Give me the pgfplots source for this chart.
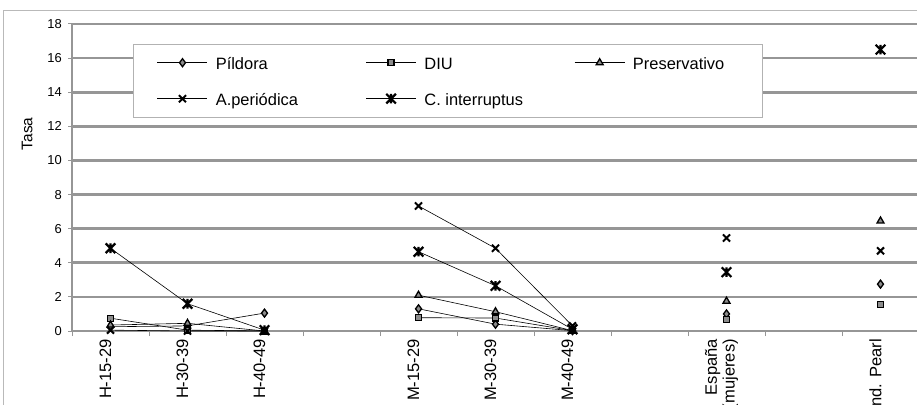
\documentclass[border=0pt]{standalone}
\usepackage{fontspec}
\setmainfont{Liberation Sans}
\usepackage{pgfplots}
\pgfplotsset{compat=1.18}
\usepackage{pgfplotstable}
\definecolor{gridc}{RGB}{150,150,150}
\definecolor{markf}{RGB}{140,140,140}
\pgfdeclareplotmark{xstar}{%
  \pgfpathmoveto{\pgfqpoint{-\pgfplotmarksize}{-\pgfplotmarksize}}%
  \pgfpathlineto{\pgfqpoint{\pgfplotmarksize}{\pgfplotmarksize}}%
  \pgfpathmoveto{\pgfqpoint{-\pgfplotmarksize}{\pgfplotmarksize}}%
  \pgfpathlineto{\pgfqpoint{\pgfplotmarksize}{-\pgfplotmarksize}}%
  \pgfpathmoveto{\pgfqpoint{0pt}{-\pgfplotmarksize}}%
  \pgfpathlineto{\pgfqpoint{0pt}{\pgfplotmarksize}}%
  \pgfusepathqstroke}

\pgfplotstableread{
x Pil DIU Pre Aper Cint
0 0.25 0.75 0.35 0.05 4.85
1 0.30 0.05 0.45 0.00 1.60
2 1.05 0.00 0.00 0.00 0.05
3 nan nan nan nan nan
4 1.30 0.78 2.10 7.33 4.65
5 0.40 0.76 1.13 4.85 2.65
6 0.02 0.02 0.02 0.30 0.10
7 nan nan nan nan nan
8 1.00 0.68 1.75 5.45 3.45
9 nan nan nan nan nan
10 2.75 1.55 6.45 4.70 16.50
}\datatab

\begin{document}
\begin{tikzpicture}
\draw[gray!55, line width=0.8bp] (-69bp,-100bp) -- (-69bp,321bp) -- (900bp,321bp);
\begin{axis}[
  at={(0,0)}, anchor=south west,
  scale only axis, width=847bp, height=307bp,
  xmin=-0.5, xmax=10.5, ymin=0, ymax=18,
  clip=false,
  unbounded coords=jump,
  axis x line=bottom, axis y line=left,
  axis line style={-, draw=gridc, line width=2.6bp},
  ymajorgrids, grid style={draw=gridc, line width=2.6bp},
  ytick={0,2,...,18},
  xtick={0,...,10},
  xticklabels={H-15-29,H-30-39,H-40-49,,M-15-29,M-30-39,M-40-49,,{España\\(mujeres)},,Ind. Pearl},
  minor xtick={-0.5,0.5,...,10.5},
  tick align=outside,
  major tick length=4bp, minor tick length=5bp,
  tick style={draw=gridc, line width=1bp},
  major x tick style={draw=none},
  /pgf/number format/assume math mode=true,
  yticklabel style={font=\fontsize{13}{15}\selectfont, inner sep=0pt, xshift=-6bp},
  xticklabel style={rotate=90, anchor=east, align=right, font=\fontsize{16.6}{18}\selectfont, inner sep=0pt, yshift=5bp, xshift=-4bp},
  legend columns=3,
  legend image code/.code={\draw[mark repeat=2,mark phase=2,#1] plot coordinates {(0bp,0bp) (25bp,0bp) (50bp,0bp)};},
  legend style={at={(axis description cs:0.0720,0.9349)}, anchor=north west,
    draw=gray!60, fill=white, inner xsep=24bp, inner ysep=8bp,
    column sep=8bp, row sep=15bp,
    font=\fontsize{16.5}{19}\selectfont,
    nodes={inner xsep=0pt, inner ysep=0pt, text height=17bp, text depth=4bp},
    /tikz/every even column/.append style={column sep=10bp}},
  legend cell align=left,
]
\addplot[black, line width=0.6bp, mark=diamond*, mark size=4bp, mark options={solid, fill=markf, draw=black, line width=1.3bp}] table[x=x,y=Pil]{\datatab};
\addlegendentry{\makebox[140bp][l]{Píldora}}
\addplot[black, line width=0.6bp, mark=square*, mark size=3bp, mark options={solid, fill=markf, draw=black, line width=1.3bp}] table[x=x,y=DIU]{\datatab};
\addlegendentry{\makebox[140bp][l]{DIU}}
\addplot[black, line width=0.6bp, mark=triangle*, mark size=4bp, mark options={solid, fill=markf, draw=black, line width=1.3bp}] table[x=x,y=Pre]{\datatab};
\addlegendentry{\makebox[105bp][l]{Preservativo}}
\addplot[black, line width=0.6bp, mark=x, mark size=5bp, mark options={solid, draw=black, line width=2bp}] table[x=x,y=Aper]{\datatab};
\addlegendentry{\makebox[140bp][l]{A.periódica}}
\addplot[black, line width=0.6bp, mark=xstar, mark size=4.8bp, mark options={solid, draw=black, line width=2.2bp}] table[x=x,y=Cint]{\datatab};
\addlegendentry{\makebox[140bp][l]{C. interruptus}}
\node[rotate=90, anchor=center, inner sep=0pt, font=\fontsize{15.5}{18}\selectfont] at (axis description cs:-0.0531,0.642) {Tasa};
\end{axis}
\pgfresetboundingbox
\useasboundingbox (-72bp,-74bp) rectangle (845bp,331bp);
\end{tikzpicture}
\end{document}
